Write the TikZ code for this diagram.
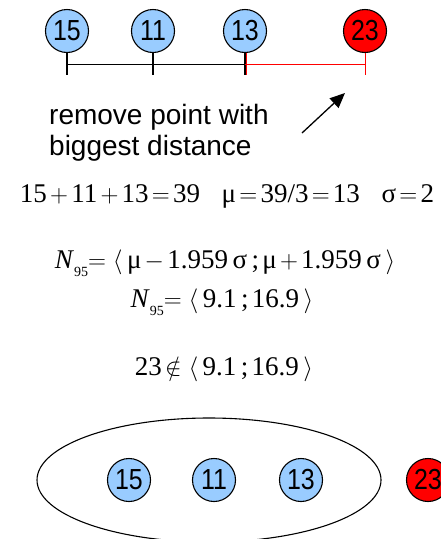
\documentclass[tikz,border=0pt]{standalone}
\usepackage{fontspec}
\setmainfont{Liberation Serif}
\newfontfamily\labelfont{Liberation Sans}
\usetikzlibrary{shapes.geometric, arrows.meta}
\definecolor{pointblue}{HTML}{99CCFF}
\newcommand{\opgap}{\hspace{0.12em}}
\newcommand{\Nsub}{\textit{N}\raisebox{-0.3em}{\fontsize{14}{14}\selectfont 95}}
\newcommand{\digits}[1]{\scalebox{0.86}[1]{#1}}
\tikzstyle{point} = [circle, draw=black, line width=1.1pt, fill=pointblue, minimum size=43pt, inner sep=0pt, font=\labelfont\fontsize{29}{29}\selectfont]
\tikzstyle{outlier} = [point, fill=red]
\tikzstyle{formula} = [anchor=base, inner sep=0pt, font=\fontsize{27}{32}\selectfont]
\tikzstyle{tick} = [line width=1.8pt]
\tikzstyle{redtick} = [line width=0.8pt, red]
\tikzstyle{arrow} = [line width=1.3pt, -{Triangle[length=15pt, width=13pt]}]

\begin{document}
\begin{tikzpicture}[x=1pt, y=-1pt, node distance=90pt]
  \useasboundingbox (0,0) rectangle (441,539);
  \clip (0,0) rectangle (441,539);

  % sorted points with distances
  \node (p15) [point] at (67,31) {\digits{15}};
  \node (p11) [point, right of=p15, xshift=-4pt] {\digits{11}};
  \node (p13) [point, right of=p11, xshift=2pt] {\digits{13}};
  \node (p23) [outlier, right of=p13, xshift=30pt] {\digits{23}};

  \draw [tick] (p15.south) -- ++(0,22);
  \draw [tick] (p11.south) -- ++(0,22);
  \draw [tick] (p13.south) -- ++(0,22);
  \draw [line width=0.9pt] ([yshift=-11pt]p15.south) -- ([yshift=-11pt]p13.south);
  \draw [redtick] ([xshift=1pt]p13.south) -- ++(0,22);
  \draw [redtick] (p23.south) -- ++(0,22);
  \draw [redtick] ([yshift=-11pt]p13.south) -- ([yshift=-11pt]p23.south);

  \node (note) [anchor=base west, align=left, inner sep=0pt, font=\labelfont\fontsize{28}{31}\selectfont] at (49,155) {remove point with\\biggest distance};
  \coordinate (tail) at (302,133);
  \coordinate (tip) at (345,93);
  \draw [arrow] (tail) -- (tip);

  % interval test
  \node (sum) [formula] at (227,202) {15\opgap$+$\opgap11\opgap$+$\opgap13\opgap$=$\opgap39\hspace{0.8em}μ\opgap$=$\opgap39/3\opgap$=$\opgap13\hspace{0.8em}σ\opgap$=$\opgap2};
  \node (nint) [formula] at (225,268) {\Nsub$=\langle$\,μ\opgap$-$\opgap1.959\,σ\,;\opgap μ\opgap$+$\opgap1.959\,σ\,$\rangle$};
  \node (nval) [formula] at (222,307) {\Nsub$=\langle$\,9.1\,;\opgap16.9\,$\rangle$};
  \node (test) [formula] at (224,375) {23\opgap$\notin\langle$\,9.1\,;\opgap16.9\,$\rangle$};

  % remaining points
  \node (cluster) [ellipse, draw=black, line width=1.1pt, minimum width=344pt, minimum height=124pt] at (209,480) {};
  \node (q15) [point] at (129,480) {\digits{15}};
  \node (q11) [point, right of=q15, xshift=-5pt] {\digits{11}};
  \node (q13) [point, right of=q11, xshift=-3pt] {\digits{13}};
  \node (q23) [outlier, right of=q13, xshift=37pt] {\digits{23}};
\end{tikzpicture}
\end{document}
